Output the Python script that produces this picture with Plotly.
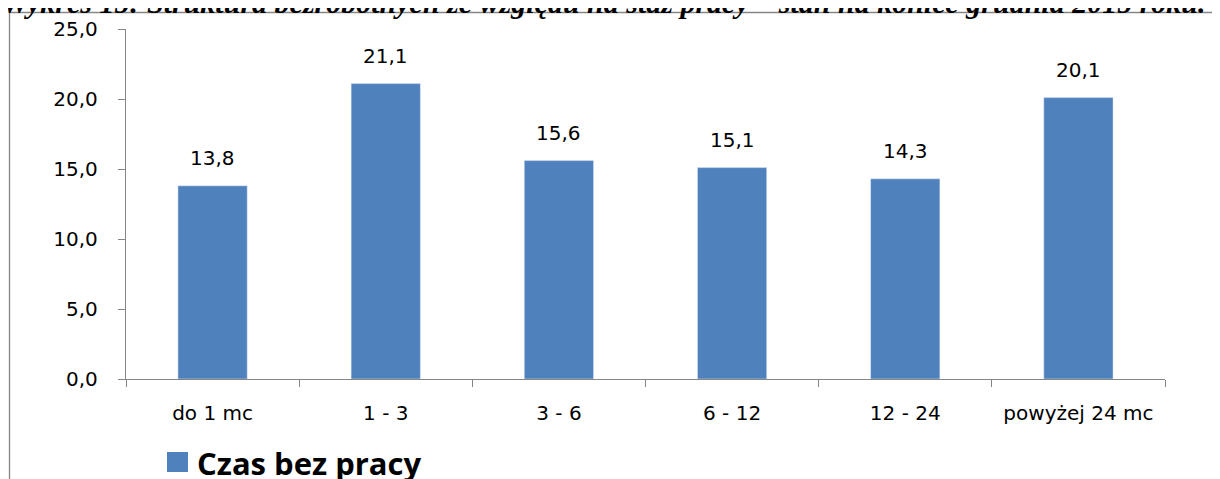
import plotly.graph_objects as go

categories = ["do 1 mc", "1 - 3", "3 - 6", "6 - 12", "12 - 24", "powyżej 24 mc"]
values = [13.8, 21.1, 15.6, 15.1, 14.3, 20.1]
series_name = "Czas bez pracy"
title_text = "Wykres 15: Struktura bezrobotnych ze względu na staż pracy – stan na koniec grudnia 2015 roku."

OFF = 8  # page body margin
W, H = 1220 - OFF, 479 - OFF
# plot area in page pixels: x 126..1165, y 29..379
L, R, T, B = 126 - OFF, 1220 - 1165, 29 - OFF, 479 - 379
pw, ph = W - L - R, H - T - B


def px(x):
    return (x - 126) / pw


def py(y):
    return (379 - y) / ph


BAR = "#4F81BD"
AX = "#868686"
FONT = "DejaVu Sans"

fig = go.Figure()
fig.add_trace(go.Bar(x=categories, y=values, name=series_name, marker_color=BAR,
                     showlegend=False))

for c, v in zip(categories, values):
    fig.add_annotation(x=c, y=v, text=f"{v:.1f}".replace(".", ","), showarrow=False,
                       yanchor="middle", yshift=28, font=dict(family=FONT, size=20, color="#000"))

# title (cut off at top)
fig.add_annotation(xref="paper", yref="paper", x=px(0), y=py(21), xanchor="left", yanchor="bottom",
                   text="<b><i>" + title_text + "</i></b>", showarrow=False,
                   font=dict(family="Liberation Serif", size=30, color="#000"))

# frame lines
fig.add_shape(type="line", xref="paper", yref="paper", x0=px(9), x1=px(1225), y0=py(12.5), y1=py(12.5),
              line=dict(color=AX, width=1.3))
fig.add_shape(type="line", xref="paper", yref="paper", x0=px(9.5), x1=px(9.5), y0=py(12.5), y1=py(485),
              line=dict(color=AX, width=1.3))

# manual legend
fig.add_shape(type="rect", xref="paper", yref="paper", x0=px(167), x1=px(188), y0=py(452), y1=py(472),
              fillcolor=BAR, line=dict(width=0))
fig.add_annotation(xref="paper", yref="paper", x=px(195), y=py(463), xanchor="left", yanchor="middle",
                   text="<b>" + series_name + "</b>", showarrow=False,
                   font=dict(family="Open Sans", size=31, color="#000"))

fig.update_layout(
    width=W, height=H, margin=dict(l=L, r=R, t=T, b=B, autoexpand=False),
    plot_bgcolor="white", paper_bgcolor="white", bargap=0.6, separators=", ",
    showlegend=False,
)
fig.update_xaxes(showline=True, linecolor=AX, linewidth=1.3, ticks="outside", ticklen=7,
                 tickcolor=AX, tickwidth=1.3, tickson="boundaries", showgrid=False,
                 tickfont=dict(family=FONT, size=20, color="#000"), ticklabelstandoff=16)
fig.update_yaxes(range=[0, 25], dtick=5, tickformat=".1f", showline=True, linecolor=AX, linewidth=1.3,
                 ticks="outside", ticklen=7, tickcolor=AX, tickwidth=1.3, showgrid=False, zeroline=False,
                 tickfont=dict(family=FONT, size=20, color="#000"), ticklabelstandoff=16)

fig.write_html("out.html")
